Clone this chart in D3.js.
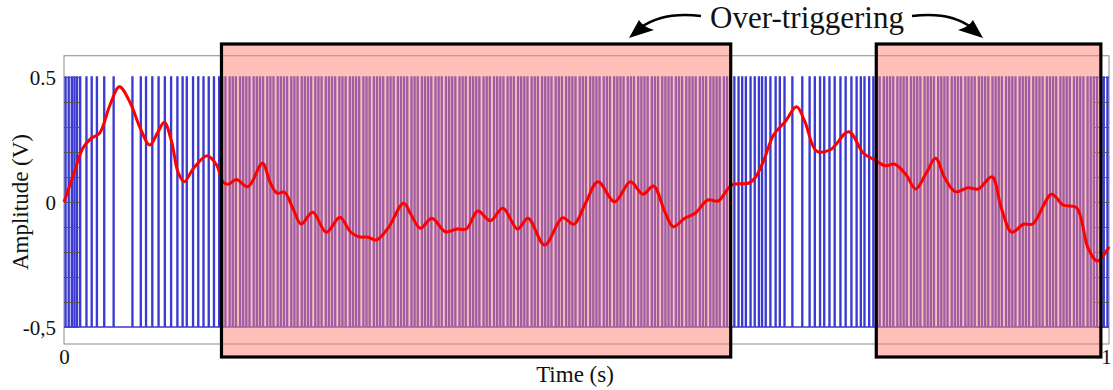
<!DOCTYPE html>
<html>
<head>
<meta charset="utf-8">
<script src="https://cdn.jsdelivr.net/npm/d3@7"></script>
<style>
  html, body { margin: 0; padding: 0; background: white; }
  #chart { width: 1113px; height: 390px; }
  text { font-family: "Liberation Serif", "Times New Roman", serif; fill: #111; }
</style>
</head>
<body>
<div id="chart"></div>
<script>
// red signal (time in s, amplitude in V)
var curveT = [0.000,0.009,0.018,0.026,0.034,0.044,0.053,0.063,0.073,0.082,0.090,0.096,0.103,0.109,0.115,0.124,0.137,0.146,0.152,0.157,
  0.165,0.176,0.190,0.197,0.204,0.211,0.219,0.227,0.238,0.251,0.264,0.274,0.282,0.291,0.299,0.310,0.325,0.332,0.341,0.352,
  0.365,0.376,0.385,0.396,0.408,0.420,0.434,0.444,0.460,0.477,0.488,0.499,0.511,0.527,0.542,0.554,0.564,0.575,0.583,0.594,
  0.604,0.616,0.626,0.639,0.655,0.661,0.669,0.679,0.690,0.701,0.709,0.720,0.733,0.751,0.765,0.776,0.786,0.795,0.806,0.815,
  0.825,0.834,0.843,0.853,0.865,0.875,0.888,0.897,0.907,0.918,0.927,0.945,0.956,0.969,0.980,0.989,1.000];
var curveV = [0.000,0.108,0.215,0.255,0.275,0.388,0.461,0.400,0.295,0.228,0.281,0.319,0.241,0.121,0.081,0.135,0.185,0.148,0.081,0.071,
  0.090,0.061,0.155,0.081,0.035,0.039,-0.025,-0.088,-0.041,-0.121,-0.061,-0.119,-0.139,-0.141,-0.152,-0.105,-0.005,-0.050,-0.105,-0.065,
  -0.119,-0.108,-0.108,-0.036,-0.075,-0.025,-0.108,-0.065,-0.172,-0.063,-0.089,-0.005,0.081,0.001,0.081,0.031,0.064,-0.039,-0.099,-0.065,
  -0.045,0.008,0.004,0.068,0.075,0.095,0.160,0.268,0.321,0.381,0.321,0.204,0.208,0.281,0.195,0.168,0.145,0.151,0.108,0.052,
  0.115,0.175,0.095,0.041,0.057,0.052,0.101,-0.025,-0.121,-0.089,-0.088,0.031,-0.012,-0.023,-0.185,-0.236,-0.179];

// pulse onsets in ms
var pulseMs = [1,4,7,9.5,12,15,21,26,31,38,47,65,73,78,84,90,96,102,108,113,117,123,128,133,138,143,148,
  151,154,158,161,164,168,171,174,177,181,184,187,190,194,197,200,204,207,210,213,217,220,223,227,230,233,236,240,243,246,250,253,256,259,
  263,266,269,273,276,279,282,286,289,292,296,299,302,305,309,312,315,319,322,325,328,332,335,338,342,345,348,351,355,358,361,365,368,371,
  374,378,381,384,388,391,394,397,401,404,407,411,414,417,420,424,427,430,434,437,440,443,447,450,453,457,460,463,466,470,473,476,480,483,
  486,489,493,496,499,503,506,509,512,516,519,522,526,529,532,535,539,542,545,549,552,555,558,562,565,568,572,575,578,581,585,588,591,595,
  598,601,604,608,611,614,618,621,624,627,631,634,637,
  641,645,648.5,652,656.5,660.5,664.5,667.5,671,675.5,680.5,684.5,689,696.5,706,713,718,723,727,732,737,742.5,747.5,753,758,762,765.5,770,774,
  777,780,784,787,790,793,797,800,803,806,810,813,816,819,823,826,829,832,836,839,842,845,849,852,855,858,862,865,868,871,875,878,881,884,
  888,891,894,897,901,904,907,910,914,917,920,923,927,930,933,936,940,943,946,949,953,956,959,962,966,969,972,975,979,982,985,988,992,
  994.5,998];

// over-triggering windows (s)
var boxStart = [0.1507, 0.7773];
var boxEnd = [0.6380, 0.9922];

var yTickValues = [0.5, 0, -0.5];
var yTickLabels = ["0.5", "0", "-0,5"];
var yMinorTicks = [-0.5,-0.4,-0.3,-0.2,-0.1,0,0.1,0.2,0.3,0.4,0.5];
var xTickValues = [0, 1];
var xTickLabels = ["0", "1"];

var W = 1113, H = 390;
var svg = d3.select("#chart").append("svg").attr("width", W).attr("height", H);

var x = d3.scaleLinear().domain([0, 1]).range([64, 1109]);
var y = d3.scaleLinear().domain([-0.5, 0.5]).range([327, 77]);

// plot frame
var frameTop = 0.585, frameBottom = -0.568;
svg.append("rect")
  .attr("x", x(0)).attr("y", y(frameTop))
  .attr("width", x(1) - x(0)).attr("height", y(frameBottom) - y(frameTop))
  .attr("fill", "none").attr("stroke", "#8a8a8a").attr("stroke-width", 1);

// pulse train
var pulseWidth = 1; // ms
var pulsePath = "M" + x(0) + "," + y(-0.5) + "H" + x(1);
pulseMs.forEach(function(p) {
  var a = x(p / 1000), b = x((p + pulseWidth) / 1000);
  pulsePath += "M" + a + "," + y(-0.5) + "V" + y(0.5) + "H" + b + "V" + y(-0.5);
});
svg.append("path")
  .attr("d", pulsePath)
  .attr("fill", "none")
  .attr("stroke", "#3a3ad2")
  .attr("stroke-width", 1.3);

// inner ticks left and right
var yAxisL = d3.axisLeft(y).tickValues(yMinorTicks).tickSize(-15).tickPadding(8)
  .tickFormat(function(d) {
    var i = yTickValues.findIndex(function(v) { return Math.abs(v - d) < 1e-9; });
    return i >= 0 ? yTickLabels[i] : "";
  });
var gL = svg.append("g").attr("transform", "translate(" + x(0) + ",0)").call(yAxisL);
gL.attr("font-family", null);
gL.select(".domain").remove();
gL.selectAll("line").attr("stroke", "#555");
gL.selectAll("text").style("font-size", "21px").attr("dy", "0.36em")
  .style("font-family", "'Liberation Serif', serif").attr("fill", "#111");

var yAxisR = d3.axisRight(y).tickValues(yMinorTicks).tickSize(-14).tickFormat("");
var gR = svg.append("g").attr("transform", "translate(" + x(1) + ",0)").call(yAxisR);
gR.select(".domain").remove();
gR.selectAll("line").attr("stroke", "#555");

var xAxis = d3.axisBottom(x).tickValues(xTickValues).tickSize(0).tickPadding(5)
  .tickFormat(function(d, i) { return xTickLabels[i]; });
var gX = svg.append("g").attr("transform", "translate(0," + y(frameBottom) + ")").call(xAxis);
gX.attr("font-family", null);
gX.select(".domain").remove();
gX.selectAll("text").style("font-size", "21px")
  .style("font-family", "'Liberation Serif', serif").attr("fill", "#111")
  .attr("dx", function(d) { return d === 1 ? "-3" : "0"; });

// axis titles
svg.append("text")
  .attr("x", 575).attr("y", 382)
  .attr("text-anchor", "middle")
  .style("font-size", "23px")
  .text("Time (s)");

svg.append("text")
  .attr("transform", "translate(28," + y(0) + ") rotate(-90)")
  .attr("text-anchor", "middle")
  .style("font-size", "23px")
  .text("Amplitude (V)");

// shaded windows
var boxTop = 0.632, boxBottom = -0.62;
svg.selectAll(".box-fill").data(boxStart).enter().append("rect")
  .attr("class", "box-fill")
  .attr("x", function(d) { return x(d); })
  .attr("y", y(boxTop))
  .attr("width", function(d, i) { return x(boxEnd[i]) - x(d); })
  .attr("height", y(boxBottom) - y(boxTop))
  .attr("fill", "#ff8276")
  .attr("fill-opacity", 0.5);

// signal
var line = d3.line()
  .x(function(d, i) { return x(curveT[i]); })
  .y(function(d) { return y(d); })
  .curve(d3.curveCatmullRom.alpha(0.5));
svg.append("path")
  .attr("d", line(curveV))
  .attr("fill", "none")
  .attr("stroke", "#ff0000")
  .attr("stroke-width", 3)
  .attr("stroke-linejoin", "round");

svg.selectAll(".box-edge").data(boxStart).enter().append("rect")
  .attr("class", "box-edge")
  .attr("x", function(d) { return x(d); })
  .attr("y", y(boxTop))
  .attr("width", function(d, i) { return x(boxEnd[i]) - x(d); })
  .attr("height", y(boxBottom) - y(boxTop))
  .attr("fill", "none")
  .attr("stroke", "#000")
  .attr("stroke-width", 3.2);

// annotation
svg.append("text")
  .attr("x", 807).attr("y", 28)
  .attr("text-anchor", "middle")
  .style("font-size", "31px")
  .text("Over-triggering");

svg.append("path")
  .attr("d", "M701,16 C676,13 655,17 640,28")
  .attr("fill", "none").attr("stroke", "#000").attr("stroke-width", 2.5);
svg.append("path")
  .attr("d", "M629,38 L639,20 Q643,27 654,30 Z")
  .attr("fill", "#000");

svg.append("path")
  .attr("d", "M912,16 C937,13 958,17 972,28")
  .attr("fill", "none").attr("stroke", "#000").attr("stroke-width", 2.5);
svg.append("path")
  .attr("d", "M983,38 L973,20 Q969,27 958,30 Z")
  .attr("fill", "#000");
</script>
</body>
</html>
